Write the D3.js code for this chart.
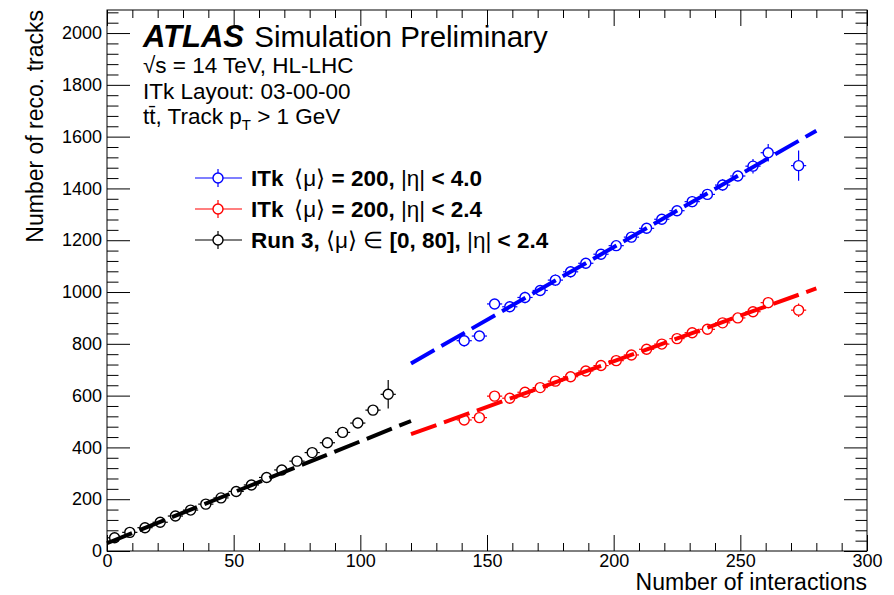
<!DOCTYPE html>
<html>
<head>
<meta charset="utf-8">
<script src="https://cdn.jsdelivr.net/npm/d3@7"></script>
<style>
  html, body { margin: 0; padding: 0; background: #fff; }
  svg text { font-family: "Liberation Sans", Arial, Helvetica, sans-serif; }
</style>
</head>
<body>
<svg id="chart" width="894" height="595"></svg>
<script>
// ---------------- data ----------------
const run3X   = [3, 9, 15, 21, 27, 33, 39, 45, 51, 57, 63, 69, 75, 81, 87, 93, 99, 105, 111];
const run3Y   = [51, 72, 90, 111, 135, 158, 181, 205, 230, 255, 284, 313, 347, 380, 418, 458, 494, 544, 605];
const run3Err = [6, 6, 6, 6, 6, 6, 7, 7, 7, 8, 8, 9, 10, 10, 12, 12, 14, 18, 55];

const itkX     = [141, 147, 153, 159, 165, 171, 177, 183, 189, 195, 201, 207, 213, 219, 225, 231, 237, 243, 249, 255, 261, 273];
const itk40Y   = [812, 830, 954, 943, 979, 1006, 1046, 1078, 1111, 1146, 1179, 1212, 1246, 1281, 1314, 1349, 1377, 1413, 1448, 1486, 1538, 1488];
const itk40Err = [22, 12, 14, 10, 22, 12, 22, 22, 20, 20, 18, 20, 20, 18, 18, 22, 16, 22, 20, 28, 34, 58];
const itk24Y   = [506, 515, 598, 590, 613, 631, 656, 673, 695, 716, 735, 757, 779, 799, 820, 843, 856, 881, 900, 924, 959, 930];
const itk24Err = [14, 14, 12, 8, 10, 10, 10, 10, 10, 10, 10, 12, 10, 12, 12, 12, 12, 14, 14, 16, 22, 26];

const binHalfWidth = 3;

const run3FitX  = [0, 120];
const run3FitY  = [30, 502];
const itk40FitX = [120, 280];
const itk40FitY = [724, 1623];
const itk24FitX = [120, 280];
const itk24FitY = [451, 1014];

const xMajorTicks = [0, 50, 100, 150, 200, 250, 300];
const yMajorTicks = [0, 200, 400, 600, 800, 1000, 1200, 1400, 1600, 1800, 2000];

const legendLabels = [
  [["ITk", "bold"], ["\u2009 \u27E8\u03BC\u27E9", "normal"], [" = 200, ", "bold"], ["|\u03B7|", "normal"], [" < 4.0", "bold"]],
  [["ITk", "bold"], ["\u2009 \u27E8\u03BC\u27E9", "normal"], [" = 200, ", "bold"], ["|\u03B7|", "normal"], [" < 2.4", "bold"]],
  [["Run 3, ", "bold"], ["\u27E8\u03BC\u27E9 \u2208", "normal"], [" [0, 80], ", "bold"], ["|\u03B7|", "normal"], [" < 2.4", "bold"]]
];
const seriesColors = ["#0000ff", "#ff0000", "#000000"];

// ---------------- layout ----------------
const svg = d3.select("#chart");
const L = 107, R = 867, T = 10, B = 551;
const x = d3.scaleLinear().domain([0, 300]).range([L, R]);
const y = d3.scaleLinear().domain([0, 2089]).range([B, T]);

const xMinor = d3.range(0, 301, 10).filter(v => v % 50 !== 0);
const yMinor = d3.range(0, 2089, 40).filter(v => v % 200 !== 0);

function styleAxis(g) {
  g.select(".domain").remove();
  g.selectAll("line").attr("stroke", "#000").attr("stroke-width", 1);
  g.selectAll("text").attr("font-size", 18).attr("fill", "#000")
    .attr("font-family", "'Liberation Sans', Arial, Helvetica, sans-serif");
}

// bottom
svg.append("g").attr("transform", `translate(0,${B})`)
  .call(d3.axisBottom(x).tickValues(xMajorTicks).tickSizeInner(-16).tickSizeOuter(0).tickPadding(3).tickFormat(d3.format("d")))
  .call(styleAxis);
svg.append("g").attr("transform", `translate(0,${B})`)
  .call(d3.axisBottom(x).tickValues(xMinor).tickSizeInner(-8).tickSizeOuter(0).tickFormat(""))
  .call(styleAxis);
// top
svg.append("g").attr("transform", `translate(0,${T})`)
  .call(d3.axisTop(x).tickValues(xMajorTicks).tickSizeInner(-16).tickSizeOuter(0).tickFormat(""))
  .call(styleAxis);
svg.append("g").attr("transform", `translate(0,${T})`)
  .call(d3.axisTop(x).tickValues(xMinor).tickSizeInner(-8).tickSizeOuter(0).tickFormat(""))
  .call(styleAxis);
// left
svg.append("g").attr("transform", `translate(${L},0)`)
  .call(d3.axisLeft(y).tickValues(yMajorTicks).tickSizeInner(-23).tickSizeOuter(0).tickPadding(5).tickFormat(d3.format("d")))
  .call(styleAxis);
svg.append("g").attr("transform", `translate(${L},0)`)
  .call(d3.axisLeft(y).tickValues(yMinor).tickSizeInner(-11.5).tickSizeOuter(0).tickFormat(""))
  .call(styleAxis);
// right
svg.append("g").attr("transform", `translate(${R},0)`)
  .call(d3.axisRight(y).tickValues(yMajorTicks).tickSizeInner(-23).tickSizeOuter(0).tickFormat(""))
  .call(styleAxis);
svg.append("g").attr("transform", `translate(${R},0)`)
  .call(d3.axisRight(y).tickValues(yMinor).tickSizeInner(-11.5).tickSizeOuter(0).tickFormat(""))
  .call(styleAxis);

// frame
svg.append("rect").attr("x", L).attr("y", T).attr("width", R - L).attr("height", B - T)
  .attr("fill", "none").attr("stroke", "#000").attr("stroke-width", 1);

// axis titles
svg.append("text").attr("x", R).attr("y", 590).attr("text-anchor", "end")
  .attr("font-size", 23).text("Number of interactions");
svg.append("text").attr("transform", `translate(43,${T}) rotate(-90)`).attr("text-anchor", "end")
  .attr("font-size", 23).text("Number of reco. tracks");

// ---------------- fit lines ----------------
const line = d3.line().x(d => x(d[0])).y(d => y(d[1]));
const fits = [
  [itk40FitX, itk40FitY, seriesColors[0]],
  [itk24FitX, itk24FitY, seriesColors[1]],
  [run3FitX, run3FitY, seriesColors[2]]
];
fits.forEach(([fx, fy, c]) => {
  svg.append("path").datum(fx.map((v, i) => [v, fy[i]]))
    .attr("d", line).attr("fill", "none").attr("stroke", c)
    .attr("stroke-width", 4).attr("stroke-dasharray", "27,8");
});

// ---------------- points ----------------
const R0 = 5;
function drawSeries(xs, ys, errs, color) {
  const g = svg.append("g");
  xs.forEach((xv, i) => {
    const cx = x(xv), cy = y(ys[i]);
    const yl = y(ys[i] - errs[i]), yh = y(ys[i] + errs[i]);
    const xl = x(xv - binHalfWidth), xh = x(xv + binHalfWidth);
    const seg = (x1, y1, x2, y2) => g.append("line").attr("x1", x1).attr("y1", y1).attr("x2", x2).attr("y2", y2)
      .attr("stroke", color).attr("stroke-width", 1.2);
    if (yl - cy > R0) { seg(cx, cy + R0, cx, yl); seg(cx, cy - R0, cx, yh); }
    if (xh - cx > R0) { seg(cx + R0, cy, xh, cy); seg(cx - R0, cy, xl, cy); }
    g.append("circle").attr("cx", cx).attr("cy", cy).attr("r", R0)
      .attr("fill", "none").attr("stroke", color).attr("stroke-width", 1.4);
  });
}
drawSeries(run3X, run3Y, run3Err, seriesColors[2]);
drawSeries(itkX, itk24Y, itk24Err, seriesColors[1]);
drawSeries(itkX, itk40Y, itk40Err, seriesColors[0]);

// ---------------- labels ----------------
const atlas = svg.append("text").attr("x", 143).attr("y", 47).attr("font-size", 29.5);
atlas.append("tspan").attr("font-weight", "bold").attr("font-style", "italic").attr("font-size", 31).text("ATLAS");
atlas.append("tspan").attr("dx", 2).text(" Simulation Preliminary");

svg.append("text").attr("x", 143).attr("y", 73).attr("font-size", 22.5).text("\u221As = 14 TeV, HL-LHC");
svg.append("text").attr("x", 143).attr("y", 99).attr("font-size", 22.5).text("ITk Layout: 03-00-00");
const tt = svg.append("text").attr("x", 143).attr("y", 124).attr("font-size", 22.5);
tt.append("tspan").text("tt\u0304, Track p");
tt.append("tspan").attr("dy", 6).attr("font-size", 15).text("T");
tt.append("tspan").attr("dy", -6).text(" > 1 GeV");

// ---------------- legend ----------------
const legY = [178, 209, 240];
legendLabels.forEach((parts, i) => {
  const c = seriesColors[i], cy = legY[i];
  svg.append("line").attr("x1", 195).attr("x2", 242).attr("y1", cy).attr("y2", cy)
    .attr("stroke", c).attr("stroke-width", 1.2);
  svg.append("line").attr("x1", 218).attr("x2", 218).attr("y1", cy - 9).attr("y2", cy + 9)
    .attr("stroke", c).attr("stroke-width", 1.2);
  svg.append("circle").attr("cx", 218).attr("cy", cy).attr("r", R0)
    .attr("fill", "#fff").attr("stroke", c).attr("stroke-width", 1.4);
  const t = svg.append("text").attr("x", 251).attr("y", cy + 7.5).attr("font-size", 22.5);
  parts.forEach(([s, w]) => t.append("tspan").attr("font-weight", w).text(s));
});
</script>
</body>
</html>
